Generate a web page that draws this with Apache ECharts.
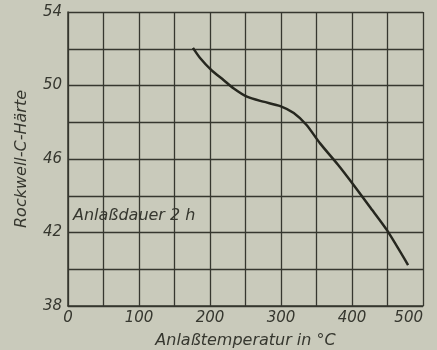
<!DOCTYPE html>
<html>
<head>
<meta charset="utf-8">
<script src="https://cdn.jsdelivr.net/npm/echarts@6/dist/echarts.min.js"></script>
<style>
  html, body { margin: 0; padding: 0; background: #c9cabb; }
  #main { width: 437px; height: 350px; }
</style>
</head>
<body>
<div id="main"></div>
<script>
// Anlasskurve: Härte über Anlasstemperatur
var temperatur = [176, 186, 202, 219, 233, 252, 275, 299, 318, 336, 355, 380, 402, 425, 449, 479];
var haerte = [52.05, 51.5, 50.84, 50.3, 49.85, 49.39, 49.12, 48.88, 48.5, 47.85, 46.85, 45.7, 44.6, 43.4, 42.14, 40.23];
var xTicks = [0, 100, 200, 300, 400, 500];
var yTicks = [38, 42, 46, 50, 54];

var ink = '#36372f';
var font = 'DejaVu Sans';

var chart = echarts.init(document.getElementById('main'));
chart.setOption({
    backgroundColor: '#c9cabb',
    animation: false,
    grid: { left: 68, top: 12, right: 14, bottom: 44, outerBoundsMode: 'none' },
    xAxis: {
        type: 'value',
        min: 0, max: 500, interval: 50,
        name: 'Anlaßtemperatur in °C',
        nameLocation: 'middle',
        nameGap: 27,
        nameTextStyle: { color: ink, fontFamily: font, fontStyle: 'italic', fontSize: 16 },
        axisLine: { show: true, lineStyle: { color: ink, width: 1.5 } },
        axisTick: { show: false },
        splitLine: { show: true, lineStyle: { color: ink, width: 1.3 } },
        axisLabel: {
            color: ink, fontFamily: font, fontStyle: 'italic', fontSize: 15, margin: 5,
            alignMaxLabel: 'right',
            formatter: function (v) { return xTicks.indexOf(v) >= 0 ? String(v) : ''; }
        }
    },
    yAxis: {
        type: 'value',
        min: 38, max: 54, interval: 2,
        name: 'Rockwell-C-Härte',
        nameLocation: 'middle',
        nameGap: 38,
        nameTextStyle: { color: ink, fontFamily: font, fontStyle: 'italic', fontSize: 16 },
        axisLine: { show: true, lineStyle: { color: ink, width: 1.5 } },
        axisTick: { show: false },
        splitLine: { show: true, lineStyle: { color: ink, width: 1.3 } },
        axisLabel: {
            color: ink, fontFamily: font, fontStyle: 'italic', fontSize: 15, margin: 6,
            formatter: function (v) { return yTicks.indexOf(v) >= 0 ? String(v) : ''; }
        }
    },
    graphic: [{
        type: 'text',
        left: 73, top: 208,
        style: { text: 'Anlaßdauer 2 h', fill: ink, font: 'italic 16px DejaVu Sans' }
    }],
    series: [{
        type: 'line',
        data: temperatur.map(function (t, i) { return [t, haerte[i]]; }),
        smooth: 0.25,
        showSymbol: false,
        lineStyle: { color: '#26271f', width: 2.5 }
    }]
});
</script>
</body>
</html>
